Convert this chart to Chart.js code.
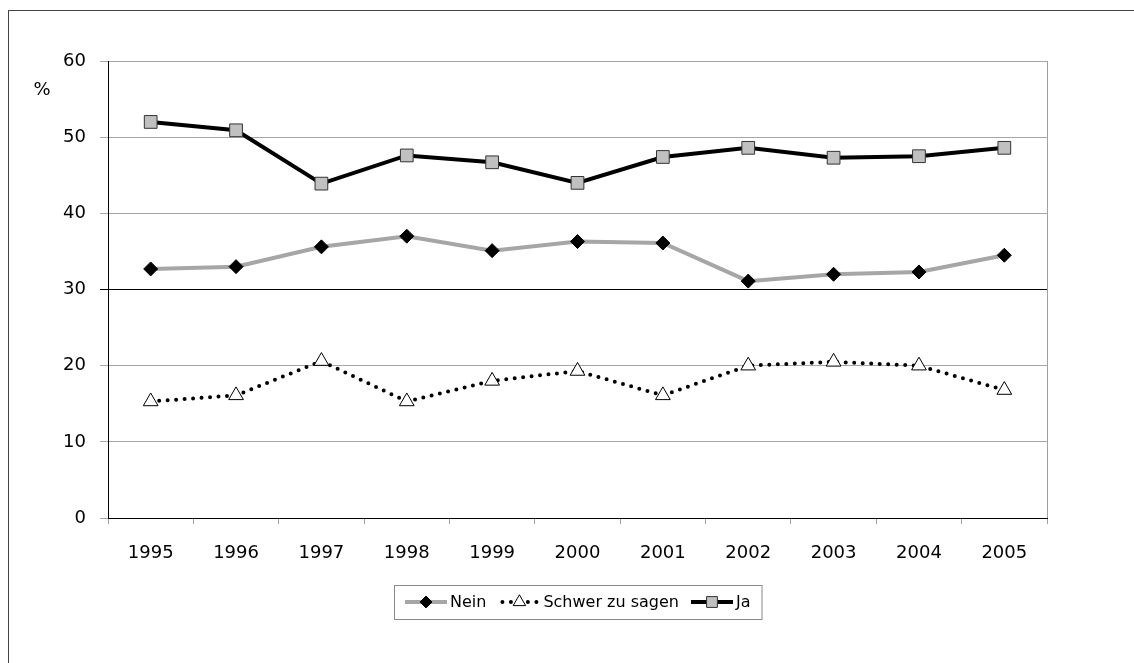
<!DOCTYPE html>
<html>
<head>
<meta charset="utf-8">
<script src="https://cdn.jsdelivr.net/npm/chart.js@4"></script>
<style>
    html, body { margin: 0; padding: 0; background: #fff; overflow: hidden; }
    #wrap { position: relative; width: 1134px; height: 663px; }
    #frame { position: absolute; left: 8px; top: 10px; width: 1200px; height: 800px;
             border: 1px solid #444; box-sizing: border-box; pointer-events: none; }
</style>
</head>
<body>
<div id="wrap">
    <canvas id="lineChart" width="1134" height="663"></canvas>
    <div id="frame"></div>
</div>
<script>
const years = ['1995', '1996', '1997', '1998', '1999', '2000', '2001', '2002', '2003', '2004', '2005'];
const neinValues = [32.7, 33.0, 35.6, 37.0, 35.1, 36.3, 36.1, 31.1, 32.0, 32.3, 34.5];
const schwerValues = [15.3, 16.1, 20.6, 15.3, 18.0, 19.3, 16.1, 20.0, 20.5, 20.0, 16.8];
const jaValues = [52.0, 50.9, 43.9, 47.6, 46.7, 44.0, 47.4, 48.6, 47.3, 47.5, 48.6];
const yAxisLabel = '%';

const FONT = '"DejaVu Sans", sans-serif';

// draws a marker like chart.js does, used for the legend samples
function drawMarker(ctx, style, r, x, y) {
    ctx.beginPath();
    if (style === 'rect') {
        const s = r * Math.SQRT1_2;
        ctx.rect(x - s, y - s, 2 * s, 2 * s);
    } else if (style === 'rectRot') {
        ctx.moveTo(x, y - r);
        ctx.lineTo(x + r, y);
        ctx.lineTo(x, y + r);
        ctx.lineTo(x - r, y);
        ctx.closePath();
    } else if (style === 'triangle') {
        ctx.moveTo(x, y - r);
        ctx.lineTo(x + r * 0.866, y + r * 0.5);
        ctx.lineTo(x - r * 0.866, y + r * 0.5);
        ctx.closePath();
    }
    ctx.fill();
    ctx.stroke();
}

const extrasPlugin = {
    id: 'extras',
    afterDraw(chart) {
        const ctx = chart.ctx;
        const area = chart.chartArea;
        ctx.save();

        // grey border on the right side of the plot
        ctx.strokeStyle = '#a0a0a0';
        ctx.lineWidth = 1;
        ctx.beginPath();
        ctx.moveTo(area.right + 0.5, area.top);
        ctx.lineTo(area.right + 0.5, area.bottom);
        ctx.stroke();

        // "%" label near the top of the y axis
        ctx.fillStyle = '#000';
        ctx.font = '18px ' + FONT;
        ctx.textAlign = 'center';
        ctx.textBaseline = 'middle';
        ctx.fillText(yAxisLabel, 42, chart.scales.y.getPixelForValue(56.2));

        // legend box with line + marker samples
        ctx.font = '16px ' + FONT;
        const sampleW = 42, gapText = 3, gapItem = 12, padX = 11;
        const items = chart.data.datasets.map(ds => ({ ds: ds, w: ctx.measureText(ds.label).width }));
        let total = padX * 2 + gapItem * (items.length - 1);
        items.forEach(it => { total += sampleW + gapText + it.w; });
        let x = Math.round((area.left + area.right) / 2 - total / 2);
        const top = 585, h = 34, cy = top + h / 2;
        ctx.strokeStyle = '#8a8a8a';
        ctx.lineWidth = 1;
        ctx.strokeRect(x + 0.5, top + 0.5, total, h);
        x += padX;
        items.forEach(it => {
            const ds = it.ds;
            ctx.save();
            ctx.strokeStyle = ds.borderColor;
            ctx.lineWidth = ds.borderWidth;
            ctx.lineCap = ds.borderCapStyle || 'butt';
            ctx.setLineDash(ds.borderDash || []);
            ctx.beginPath();
            ctx.moveTo(x + (ds.borderDash ? 4 : 0), cy);
            ctx.lineTo(x + sampleW, cy);
            ctx.stroke();
            ctx.setLineDash([]);
            ctx.lineCap = 'butt';
            ctx.fillStyle = ds.pointBackgroundColor;
            ctx.strokeStyle = ds.pointBorderColor;
            ctx.lineWidth = ds.pointBorderWidth;
            drawMarker(ctx, ds.pointStyle, ds.pointRadius * 0.85, x + sampleW / 2, cy);
            ctx.restore();
            ctx.fillStyle = '#000';
            ctx.textAlign = 'left';
            ctx.textBaseline = 'middle';
            ctx.fillText(ds.label, x + sampleW + gapText, cy + 1);
            x += sampleW + gapText + it.w + gapItem;
        });
        ctx.restore();
    }
};

const dataToDisplay = {
    labels: years,
    datasets: [{
        label: 'Nein',
        data: neinValues,
        borderColor: '#a6a6a6',
        borderWidth: 4,
        pointStyle: 'rectRot',
        pointRadius: 7,
        pointBackgroundColor: '#000',
        pointBorderColor: '#000',
        pointBorderWidth: 1,
    }, {
        label: 'Schwer zu sagen',
        data: schwerValues,
        borderColor: '#000',
        borderWidth: 4,
        borderDash: [0, 8.5],
        borderCapStyle: 'round',
        pointStyle: 'triangle',
        pointRadius: 8.5,
        pointBackgroundColor: '#fff',
        pointBorderColor: '#000',
        pointBorderWidth: 1,
    }, {
        label: 'Ja',
        data: jaValues,
        borderColor: '#000',
        borderWidth: 4,
        pointStyle: 'rect',
        pointRadius: 9,
        pointBackgroundColor: '#c0c0c0',
        pointBorderColor: '#333',
        pointBorderWidth: 1,
    }]
};

const config = {
    type: 'line',
    data: dataToDisplay,
    options: {
        responsive: false,
        animation: false,
        layout: {
            padding: { top: 61, right: 87, left: 0, bottom: 85 }
        },
        plugins: {
            legend: { display: false },
            tooltip: { enabled: false }
        },
        scales: {
            x: {
                offset: true,
                afterFit: scale => { scale.height = 60; },
                grid: {
                    offset: true,
                    drawOnChartArea: false,
                    drawTicks: true,
                    tickLength: 6,
                    color: '#a0a0a0'
                },
                border: { color: '#000', width: 1 },
                ticks: {
                    color: '#000',
                    padding: 19,
                    maxRotation: 0,
                    font: { family: FONT, size: 18 }
                }
            },
            y: {
                min: 0,
                max: 60,
                afterFit: scale => { scale.width = 108; },
                grid: {
                    tickLength: 8,
                    color: ctx => (ctx.tick && ctx.tick.value === 30) ? '#000' : '#a6a6a6'
                },
                border: { color: '#000', width: 1 },
                ticks: {
                    stepSize: 10,
                    color: '#000',
                    padding: 14,
                    font: { family: FONT, size: 18 }
                }
            }
        }
    },
    plugins: [extrasPlugin]
};

const lineChart = new Chart(document.getElementById('lineChart'), config);
</script>
</body>
</html>
